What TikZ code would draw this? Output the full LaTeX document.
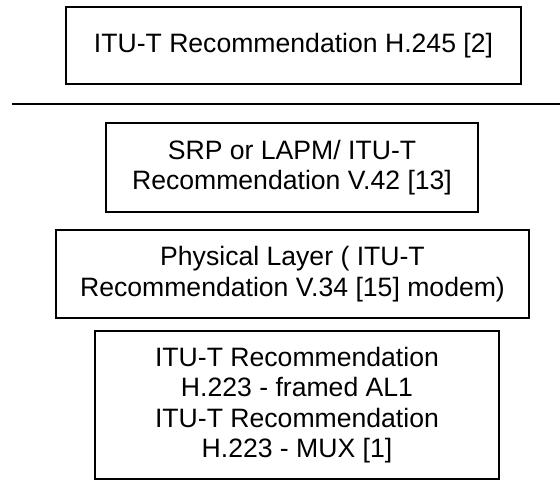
\documentclass[tikz,border=0pt]{standalone}
\usepackage{fontspec}
\setmainfont{Liberation Sans}
\usetikzlibrary{positioning}

\begin{document}
\begin{tikzpicture}[x=1pt, y=-1pt, line width=1.5pt,
		layer/.style={draw, rectangle, align=center, inner sep=0pt, font=\fontsize{26.6}{30.5}\selectfont}]
			\useasboundingbox (0,0) rectangle (560,490);
			\node (h245) at (293.5,45.5) [layer, minimum width=455pt, minimum height=77pt] {ITU-T Recommendation H.245 [2]};
			\coordinate (sepleft) at (12,104);
			\coordinate (sepright) at (560,104);
			\node (srp) at (292,167.5) [layer, minimum width=372pt, minimum height=89pt] {SRP or LAPM/ ITU-T\\Recommendation V.42 [13]};
			\node (physical) at (292.5,274) [layer, minimum width=473pt, minimum height=88pt] {Physical Layer ( ITU-T\\Recommendation V.34 [15] modem)};
			\node (mux) at (297,405) [layer, minimum width=404pt, minimum height=148pt] {ITU-T Recommendation\\H.223 - framed AL1\\ITU-T Recommendation\\H.223 - MUX [1]};
			
			\draw (sepleft) -- (sepright);
		\end{tikzpicture}
\end{document}
